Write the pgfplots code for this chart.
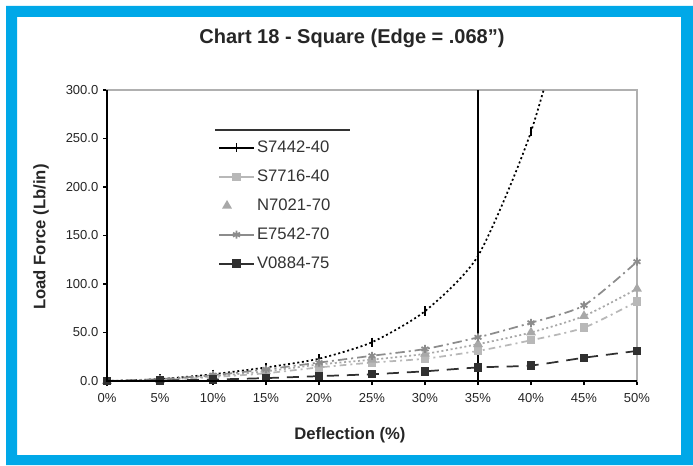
\documentclass[border=0pt]{standalone}
\usepackage{pgfplots}
\pgfplotsset{compat=1.18}
\usepackage{fontspec}
\setmainfont{Liberation Sans}
\definecolor{frameblue}{HTML}{00A8E8}
\definecolor{cA}{HTML}{000000}
\definecolor{cB}{HTML}{B8B8B8}
\definecolor{cC}{HTML}{A8A8A8}
\definecolor{cD}{HTML}{8C8C8C}
\definecolor{cE}{HTML}{303030}
\definecolor{frame}{HTML}{B0B0B0}
\begin{document}
\begin{tikzpicture}[x=0.75pt,y=0.75pt]
\fill[white] (0,0) rectangle (693,465);
\fill[frameblue, even odd rule] (6,0) rectangle (693,459) (17,10) rectangle (681,448);
\node[font=\fontsize{15}{18}\selectfont\bfseries, text=black!85] at (352,427) {Chart 18 - Square (Edge = .068")};
\begin{axis}[
  at={(80.25pt,63pt)}, anchor=south west,
  scale only axis, width=397.5pt, height=218.25pt,
  xmin=0, xmax=50, ymin=0, ymax=300,
  xtick={0,5,10,15,20,25,30,35,40,45,50},
  xticklabels={0\%,5\%,10\%,15\%,20\%,25\%,30\%,35\%,40\%,45\%,50\%},
  ytick={0,50,100,150,200,250,300},
  yticklabels={0.0,50.0,100.0,150.0,200.0,250.0,300.0},
  tick label style={font=\fontsize{9.75}{11}\selectfont, text=black!85},
  xticklabel style={yshift=-3pt},
  xtick pos=bottom, ytick pos=left,
  tick align=outside, major tick length=3pt,
  tick style={black, line width=0.8pt},
  axis line style={draw=frame, line width=1.5pt},
  clip mode=individual,
  xlabel={Deflection (\%)}, ylabel={Load Force (Lb/in)},
  xlabel style={at={(axis description cs:0.4585,-0.1856)}, anchor=center, font=\fontsize{12.5}{15}\selectfont\bfseries, text=black!85},
  ylabel style={at={(axis description cs:-0.1245,0.495)}, anchor=center, font=\fontsize{12.5}{15}\selectfont\bfseries, text=black!85},
  legend style={at={(0.21,0.835)}, anchor=north west, draw=none, fill=none,
    font=\fontsize{12.5}{15}\selectfont, text=black!80, row sep=7.5pt, inner sep=0pt},
  legend cell align=left,
  legend image post style={solid},
  legend image code/.code={\draw[mark repeat=2,mark phase=2] plot coordinates {(0cm,0cm)(0.45cm,0cm)(0.9cm,0cm)};},
]
\addplot[black, line width=1.5pt, forget plot] coordinates {(35,0) (35,300)};
\addplot[cA, line width=1.3pt, dash pattern=on 1.5pt off 2pt, smooth, tension=0.4, mark=|, mark size=3.5pt, mark options={solid}] coordinates {
(0,0) (5,2) (10,7) (15,14) (20,23) (25,40) (30,72) (35,129) (40,257) (45,450)};
\addlegendentry{S7442-40}
\addplot[cB, line width=1.3pt, dash pattern=on 5pt off 3pt on 1.5pt off 3pt, smooth, tension=0.4, mark=square*, mark size=2.5pt, mark options={solid}] coordinates {
(0,0) (5,1) (10,4) (15,8) (20,14) (25,19) (30,23) (35,31) (40,42) (45,55) (50,82)};
\addlegendentry{S7716-40}
\addplot[cC, line width=1.3pt, dash pattern=on 1.5pt off 2pt, smooth, tension=0.4, mark=triangle*, mark size=3pt, mark options={solid},
  legend image code/.code={\draw plot[only marks] coordinates {(0.2cm,0cm)};}] coordinates {
(0,0) (5,1) (10,5) (15,10) (20,17) (25,22) (30,28) (35,38) (40,50) (45,67) (50,95)};
\addlegendentry{N7021-70}
\addplot[cD, line width=1.3pt, dash pattern=on 7pt off 3pt on 1.5pt off 3pt, smooth, tension=0.4, mark=asterisk, mark size=3pt, mark options={solid}] coordinates {
(0,0) (5,2) (10,6) (15,12) (20,19) (25,26) (30,33) (35,45) (40,60) (45,78) (50,123)};
\addlegendentry{E7542-70}
\addplot[cE, line width=1.3pt, dash pattern=on 9pt off 6pt, smooth, tension=0.4, mark=square*, mark size=2.5pt, mark options={solid}] coordinates {
(0,0) (5,0.5) (10,1.5) (15,3) (20,5) (25,7) (30,10) (35,14) (40,16) (45,24) (50,31)};
\addlegendentry{V0884-75}
\draw[black, line width=1.5pt] (rel axis cs:0,1) -- (rel axis cs:0,0) -- (rel axis cs:1,0);
\draw[black!80, line width=1.5pt] (rel axis cs:0.204,0.8625) -- (rel axis cs:0.458,0.8625);
\end{axis}
\end{tikzpicture}
\end{document}
